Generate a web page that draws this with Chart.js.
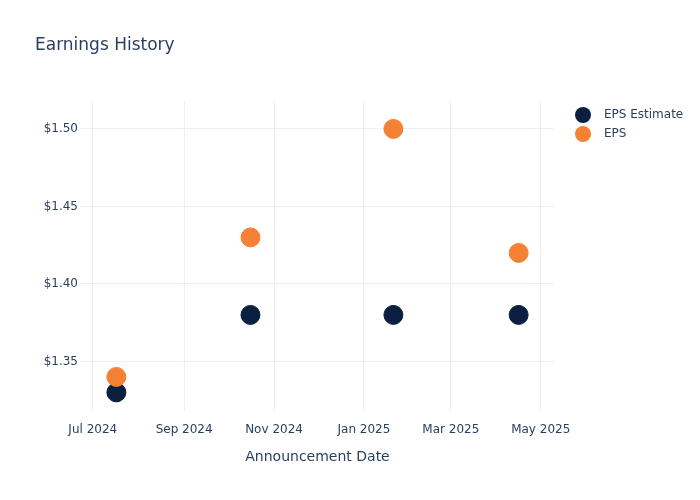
<!DOCTYPE html>
<html>
<head>
<meta charset="utf-8">
<script src="https://cdn.jsdelivr.net/npm/chart.js@4.4.1/dist/chart.umd.min.js"></script>
<style>
    html, body { margin: 0; padding: 0; background: #fff; }
    canvas { display: block; }
</style>
</head>
<body>
<canvas id="epsChart" width="700" height="500"></canvas>
<script>
// announcement dates and values
const announceDates = ['2024-07-17', '2024-10-16', '2025-01-21', '2025-04-16'];
const epsEstimate = [1.33, 1.38, 1.38, 1.38];
const epsActual = [1.34, 1.43, 1.50, 1.42];

const xTickDates = ['2024-07-01', '2024-09-01', '2024-11-01', '2025-01-01', '2025-03-01', '2025-05-01'];
const xTickLabels = ['Jul 2024', 'Sep 2024', 'Nov 2024', 'Jan 2025', 'Mar 2025', 'May 2025'];
const yTicks = [1.35, 1.40, 1.45, 1.50];

const FONT = '"DejaVu Sans", sans-serif';
const TEXT = '#2a3f5f';
const GRID = '#ebf0f8';

const toTime = (d) => new Date(d + 'T00:00:00Z').getTime();

const points = (values) => announceDates.map((d, i) => ({x: toTime(d), y: values[i]}));

// title + legend drawn straight on the canvas
const decorations = {
    id: 'decorations',
    afterDraw(chart) {
        const ctx = chart.ctx;
        ctx.save();
        ctx.fillStyle = TEXT;
        ctx.textBaseline = 'middle';
        ctx.font = '17px ' + FONT;
        ctx.fillText('Earnings History', 35, 46);

        ctx.font = '12px ' + FONT;
        chart.data.datasets.forEach((ds, i) => {
            const y = 115 + i * 19;
            ctx.beginPath();
            ctx.arc(583, y, 8, 0, Math.PI * 2);
            ctx.fillStyle = ds.backgroundColor;
            ctx.fill();
            ctx.fillStyle = TEXT;
            ctx.fillText(ds.label, 604, y);
        });
        ctx.restore();
    }
};

new Chart(document.getElementById('epsChart'), {
    type: 'scatter',
    data: {
        datasets: [{
            label: 'EPS Estimate',
            data: points(epsEstimate),
            backgroundColor: '#0b1f41',
            borderColor: '#0b1f41',
            pointRadius: 9.5,
            order: 2
        }, {
            label: 'EPS',
            data: points(epsActual),
            backgroundColor: '#f58134',
            borderColor: '#f58134',
            pointRadius: 9.5,
            order: 1
        }]
    },
    options: {
        responsive: false,
        animation: false,
        devicePixelRatio: 1,
        layout: {
            padding: {left: 0, top: 101, right: 146, bottom: 0}
        },
        plugins: {
            legend: {display: false},
            title: {display: false},
            tooltip: {enabled: false}
        },
        scales: {
            x: {
                type: 'linear',
                min: toTime('2024-06-23'),
                max: toTime('2025-05-10'),
                afterBuildTicks: (scale) => {
                    scale.ticks = xTickDates.map((d) => ({value: toTime(d)}));
                },
                afterFit: (scale) => { scale.height = 89; },
                grid: {color: GRID, drawTicks: false},
                border: {display: false},
                ticks: {
                    color: TEXT,
                    font: {family: FONT, size: 12},
                    padding: 12,
                    maxRotation: 0,
                    autoSkip: false,
                    callback: (value) => {
                        const idx = xTickDates.findIndex((d) => toTime(d) === value);
                        return idx >= 0 ? xTickLabels[idx] : '';
                    }
                },
                title: {
                    display: true,
                    text: 'Announcement Date',
                    color: TEXT,
                    font: {family: FONT, size: 14},
                    padding: {top: 0, bottom: 34}
                }
            },
            y: {
                min: 1.318,
                max: 1.518,
                afterBuildTicks: (scale) => {
                    scale.ticks = yTicks.map((v) => ({value: v}));
                },
                afterFit: (scale) => { scale.width = 81; },
                grid: {color: GRID, drawTicks: false},
                border: {display: false},
                ticks: {
                    color: TEXT,
                    font: {family: FONT, size: 12},
                    padding: 3,
                    callback: (value) => '$' + value.toFixed(2)
                }
            }
        }
    },
    plugins: [decorations]
});
</script>
</body>
</html>
